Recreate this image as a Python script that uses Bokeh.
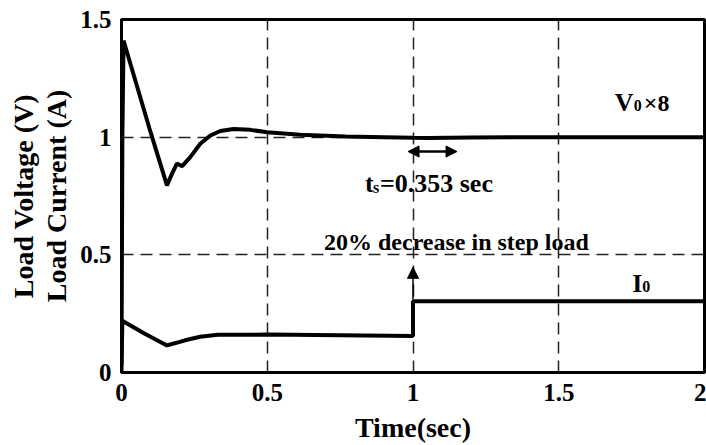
from bokeh.plotting import figure
from bokeh.models import Range1d, FixedTicker, Label, Arrow, NormalHead, LinearAxis
from bokeh.embed import file_html
from bokeh.resources import INLINE

# ---- data ----
t_vo = [0.0, 0.003, 0.007, 0.05, 0.10, 0.156, 0.173, 0.19, 0.208, 0.236, 0.27,
        0.305, 0.339, 0.384, 0.442, 0.50, 0.613, 0.77, 0.9, 1.0, 1.05, 1.2, 1.35, 2.0]
vo = [0.0, 1.0, 1.41, 1.23, 1.02, 0.795, 0.844, 0.888, 0.877, 0.915, 0.972,
      1.007, 1.026, 1.035, 1.031, 1.021, 1.010, 1.003, 1.0, 0.997, 0.996, 0.999, 1.0, 1.0]

t_io = [0.0, 0.003, 0.01, 0.08, 0.156, 0.17, 0.20, 0.225, 0.27, 0.33, 0.50, 1.0, 1.0, 2.0]
io = [0.03, 0.22, 0.215, 0.165, 0.115, 0.12, 0.13, 0.139, 0.152, 0.160, 0.161, 0.155, 0.303, 0.303]

x_ticks = [0, 0.5, 1, 1.5, 2]
x_tick_labels = ["0", "0.5", "1", "1.5", "2"]
y_ticks = [0, 0.5, 1, 1.5]
y_tick_labels = ["0", "0.5", "1", "1.5"]

FONT = "Liberation Serif"

p = figure(width=706, height=445, output_backend="svg", toolbar_location=None,
           x_range=Range1d(0, 2), y_range=Range1d(0, 1.5),
           min_border_left=121, min_border_right=2, min_border_top=19, min_border_bottom=73)
p.background_fill_color = "white"
p.border_fill_color = "white"
p.outline_line_color = "black"
p.outline_line_width = 3
p.outline_line_alpha = 1

p.xaxis.ticker = FixedTicker(ticks=x_ticks)
p.yaxis.ticker = FixedTicker(ticks=y_ticks)
p.xaxis.major_label_overrides = {t: l for t, l in zip(x_ticks, x_tick_labels)}
p.yaxis.major_label_overrides = {t: l for t, l in zip(y_ticks, y_tick_labels)}
for ax in (p.xaxis, p.yaxis):
    ax.major_tick_line_color = None
    ax.minor_tick_line_color = None
    ax.major_tick_out = 0
    ax.major_tick_in = 0
    ax.axis_line_width = 3
    ax.axis_line_color = "black"
    ax.major_label_text_font = FONT
    ax.major_label_text_font_style = "bold"
    ax.major_label_text_font_size = "25px"
    ax.major_label_text_color = "black"
    ax.axis_label_text_font = FONT
    ax.axis_label_text_font_style = "bold"
    ax.axis_label_text_font_size = "28px"
    ax.axis_label_text_color = "black"
p.xaxis.major_label_standoff = 11
p.yaxis.major_label_standoff = 10
p.xaxis.axis_label = "Time(sec)"
p.xaxis.axis_label_standoff = 8
p.yaxis.axis_label = "Load Current (A)"
p.yaxis.axis_label_standoff = 5

outer = LinearAxis(ticker=FixedTicker(ticks=[]), axis_label="Load Voltage (V)",
                   axis_line_color=None, major_tick_line_color=None, minor_tick_line_color=None,
                   major_tick_out=0, major_tick_in=0, major_label_standoff=0,
                   axis_label_standoff=0, axis_label_text_font=FONT,
                   axis_label_text_font_style="bold", axis_label_text_font_size="28px",
                   axis_label_text_color="black")
p.add_layout(outer, "left")

for g in (p.xgrid, p.ygrid):
    g.grid_line_color = "#222222"
    g.grid_line_width = 1.5
    g.grid_line_dash = "12 7"
p.xgrid.ticker = FixedTicker(ticks=[0.5, 1, 1.5])
p.ygrid.ticker = FixedTicker(ticks=[0.5, 1])

p.line(t_io, io, line_color="black", line_width=4)
p.line(t_vo, vo, line_color="black", line_width=4)

def lab(text, x, y, size="25px", align="left", xo=0, yo=0):
    p.add_layout(Label(x=x, y=y, text=text, text_font=FONT, text_font_style="bold",
                       text_font_size=size, text_align=align, text_baseline="alphabetic",
                       x_offset=xo, y_offset=yo, text_color="black"))

# V0x8
lab("V", 1.692, 1.147, size="26px")
lab("0", 1.692, 1.147, size="16px", xo=19, yo=-3)
lab("×8", 1.692, 1.147, size="24px", xo=29)

# I0
lab("I", 1.752, 0.38, size="26px")
lab("0", 1.752, 0.38, size="16px", xo=10, yo=-3)

# settling time
lab("t", 0.835, 0.803, size="26px")
lab("s", 0.835, 0.803, size="16px", xo=8, yo=-4)
lab("=0.353 sec", 0.835, 0.803, size="26px", xo=15)

lab("20% decrease in step load", 1.149, 0.554, size="24px", align="center")

p.add_layout(Arrow(start=NormalHead(size=11, fill_color="black", line_color="black"),
                   end=NormalHead(size=11, fill_color="black", line_color="black"),
                   x_start=0.983, y_start=0.939, x_end=1.151, y_end=0.939,
                   line_width=2.5, line_color="black"))
p.add_layout(Arrow(end=NormalHead(size=11, fill_color="black", line_color="black"),
                   x_start=1.0, y_start=0.31, x_end=1.0, y_end=0.447,
                   line_width=1.5, line_color="black"))

open("out.html", "w").write(file_html(p, INLINE))
